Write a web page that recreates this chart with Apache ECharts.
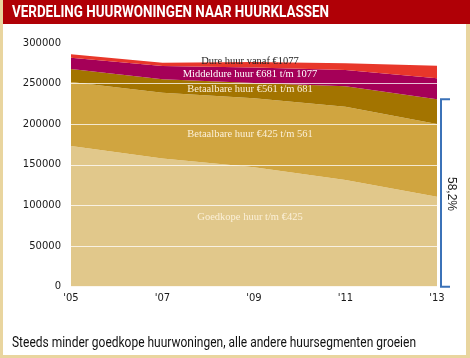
<!DOCTYPE html>
<html>
<head>
<meta charset="utf-8">
<script src="https://cdn.jsdelivr.net/npm/echarts@6/dist/echarts.min.js"></script>
<style>html,body{margin:0;padding:0;background:#fff}#c{width:470px;height:358px}</style>
</head>
<body>
<div id="c"></div>
<script>
var years = ["'05", "'07", "'09", "'11", "'13"];
var goedkope = [173300, 157900, 147000, 131400, 110800];
var betaalbaar425 = [78700, 81000, 85000, 90300, 89600];
var betaalbaar561 = [16100, 16500, 18900, 25100, 30400];
var middelduur = [13900, 16400, 19000, 20100, 25800];
var duur = [4200, 4100, 6800, 8200, 15600];
var seriesNames = ['Goedkope huur t/m €425', 'Betaalbare huur €425 t/m 561', 'Betaalbare huur €561 t/m 681', 'Middeldure huur €681 t/m 1077', 'Dure huur vanaf €1077'];
var yTicks = [0, 50000, 100000, 150000, 200000, 250000, 300000];
var bracketLabel = '58,2%';
var title = 'VERDELING HUURWONINGEN NAAR HUURKLASSEN';
var footer = 'Steeds minder goedkope huurwoningen, alle andere huursegmenten groeien';

var colors = ['#e1c88b', '#d0a540', '#a37400', '#a50058', '#e8372a'];
var datas = [goedkope, betaalbaar425, betaalbaar561, middelduur, duur];

var chart = echarts.init(document.getElementById('c'), null, {renderer: 'canvas'});
var series = datas.map(function (d, i) {
  return {
    name: seriesNames[i], type: 'line', stack: 'all', data: d,
    symbol: 'none', smooth: false,
    lineStyle: {width: 0}, areaStyle: {color: colors[i], opacity: 1},
    itemStyle: {color: colors[i]}, z: 2
  };
});
chart.setOption({
  animation: false,
  backgroundColor: '#fff',
  grid: {left: 71, right: 33, top: 43.1, bottom: 71.3},
  xAxis: {
    type: 'category', data: years, boundaryGap: false,
    axisLine: {show: false}, axisTick: {show: false},
    axisLabel: {color: '#1a1a1a', fontFamily: 'DejaVu Sans', fontSize: 10, margin: 7}
  },
  yAxis: {
    type: 'value', min: yTicks[0], max: yTicks[yTicks.length - 1], interval: 50000, z: 10,
    axisLine: {show: false}, axisTick: {show: false},
    axisLabel: {color: '#1a1a1a', fontFamily: 'DejaVu Sans', fontSize: 10, margin: 10, formatter: function (v) { return String(v); }},
    splitLine: {show: true, lineStyle: {color: 'rgba(255,255,255,0.75)', width: 1}}
  },
  series: series
});

var mctx = document.createElement('canvas').getContext('2d');
function fitScale(text, font, width) {
  mctx.font = font;
  return width / mctx.measureText(text).width;
}

// annotation positions from data scales
var lastIdx = years.length - 1;
var xRight = chart.convertToPixel({xAxisIndex: 0}, years[lastIdx]);
var topVal = goedkope[lastIdx] + betaalbaar425[lastIdx] + betaalbaar561[lastIdx];
var yTop = chart.convertToPixel({yAxisIndex: 0}, topVal);
var yBot = chart.convertToPixel({yAxisIndex: 0}, 0);
var bx = xRight + 4;

var titleFont = 'bold 17px Roboto, sans-serif';
var footFont = '15px Roboto, sans-serif';
var labelFont = '10.5px "Liberation Serif", serif';

function lbl(text, x, y, color) {
  return {type: 'text', x: x, y: y, z: 100, style: {text: text, fill: color, font: labelFont, align: 'center', verticalAlign: 'middle'}};
}
chart.setOption({
  graphic: [
    {type: 'rect', shape: {x: 0, y: 0, width: 470, height: 358}, style: {fill: '#e9d59f'}, z: -10, silent: true},
    {type: 'rect', shape: {x: 3, y: 0, width: 463, height: 355}, style: {fill: '#fff'}, z: -9, silent: true},
    {type: 'rect', shape: {x: 3, y: 0, width: 467, height: 24}, style: {fill: '#b00006'}, z: 50},
    {type: 'text', x: 12, y: 13, scaleX: fitScale(title, titleFont, 317), z: 51, style: {text: title, fill: '#fff', font: titleFont, verticalAlign: 'middle'}},
    {type: 'text', x: 12, y: 343, scaleX: fitScale(footer, footFont, 404), z: 51, style: {text: footer, fill: '#111', font: footFont, verticalAlign: 'middle'}},
    lbl(seriesNames[4], 250, 61, '#222'),
    lbl(seriesNames[3], 250, 74.5, '#fff'),
    lbl(seriesNames[2], 250, 89, '#fbf0d8'),
    lbl(seriesNames[1], 250, 134.5, '#fbf0d8'),
    lbl(seriesNames[0], 250, 217.5, '#fbf0d8'),
    {type: 'polyline', z: 60, shape: {points: [[bx + 9, yTop], [bx, yTop], [bx, yBot], [bx + 9, yBot]]}, style: {stroke: '#3b72b8', lineWidth: 2, fill: null}},
    {type: 'text', x: bx + 10, y: (yTop + yBot) / 2 + 1, rotation: -Math.PI / 2, z: 60, style: {text: bracketLabel, fill: '#222', font: '12px "Liberation Sans", sans-serif', align: 'center', verticalAlign: 'middle'}}
  ]
});
</script>
</body>
</html>
